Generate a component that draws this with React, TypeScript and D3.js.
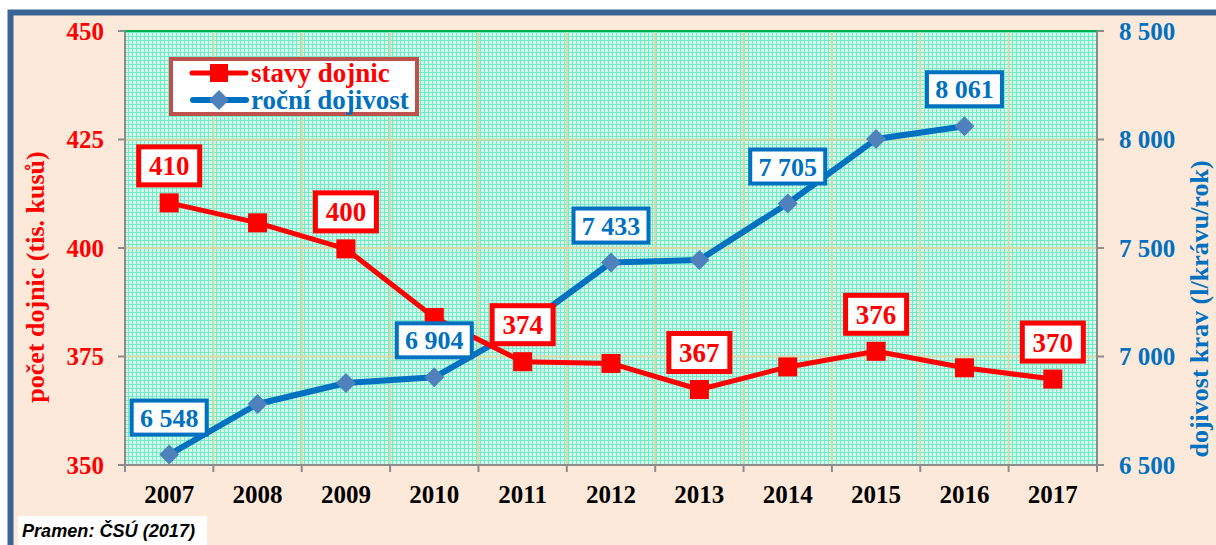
import React from "react";
import * as d3 from "d3";

const years = ["2007", "2008", "2009", "2010", "2011", "2012", "2013", "2014", "2015", "2016", "2017"];
const cows = [410.4, 405.8, 399.8, 384.0, 373.8, 373.4, 367.4, 372.6, 376.2, 372.4, 369.8];
const milk: (number | null)[] = [6548, 6781, 6878, 6904, 7135, 7433, 7445, 7705, 8002, 8061, null];
const cowsLabelIdx = [0, 2, 4, 6, 8, 10];
const milkLabelIdx = [0, 3, 5, 7, 9];
const leftTicks = [350, 375, 400, 425, 450];
const rightTicks = [6500, 7000, 7500, 8000, 8500];
const seriesNames = ["stavy dojnic", "roční dojivost"];

const RED = "#FF0000";
const BLUE = "#0070C0";
const DIAMOND = "#4F81BD";
const SERIF = "'Liberation Serif', 'Times New Roman', serif";

const fmt = d3.formatLocale({ decimal: ",", thousands: "\u00a0", grouping: [3], currency: ["", ""] }).format(",d");

export default function App() {
  const W = 1216, H = 545;
  const L = 125, R = 1097, T = 31, B = 465;
  const x = d3.scaleBand<string>().domain(years).range([L, R]);
  const cx = (i: number) => (x(years[i]) as number) + x.bandwidth() / 2;
  const yL = d3.scaleLinear().domain([350, 450]).range([B, T]);
  const yR = d3.scaleLinear().domain([6500, 8500]).range([B, T]);

  const redLine = d3.line<number>().x((_, i) => cx(i)).y((d) => yL(d))(cows) || "";
  const milkPts = milk.map((v, i) => ({ v, i })).filter((p) => p.v !== null) as { v: number; i: number }[];
  const blueLine = d3.line<{ v: number; i: number }>().x((p) => cx(p.i)).y((p) => yR(p.v))(milkPts) || "";

  const diamond = (px: number, py: number, r: number) =>
    `M${px},${py - r}L${px + r},${py}L${px},${py + r}L${px - r},${py}Z`;

  const boundaries = d3.range(years.length + 1).map((k) => L + k * x.bandwidth());

  return (
    <svg width={W} height={H} style={{ position: "absolute", left: 0, top: 0 }} xmlns="http://www.w3.org/2000/svg">
      <defs>
        <pattern id="grid" width={4} height={4} patternUnits="userSpaceOnUse">
          <rect width={4} height={4} fill="#D2F8EC" />
          <rect width={4} height={1} fill="#74E9C6" />
          <rect width={1} height={4} fill="#74E9C6" />
        </pattern>
      </defs>
      <rect width={W} height={H} fill="#FFFFFF" />
      <rect x={10.5} y={12.5} width={1240} height={560} fill="#FDE9D9" stroke="#3B6496" strokeWidth={6} />

      {/* plot area */}
      <rect x={L} y={T} width={R - L} height={B - T} fill="url(#grid)" />
      {boundaries.slice(1, -1).map((bx, k) => (
        <line key={"v" + k} x1={bx} x2={bx} y1={T} y2={B} stroke="#D5D9A6" strokeWidth={2} />
      ))}
      {leftTicks.slice(1, -1).map((t) => (
        <line key={"h" + t} x1={L} x2={R} y1={yL(t)} y2={yL(t)} stroke="#D5D9A6" strokeWidth={2} />
      ))}
      <line x1={L} x2={R} y1={T} y2={T} stroke="#00B050" strokeWidth={2} />
      <line x1={L} x2={L} y1={T} y2={B} stroke="#8C8C8C" strokeWidth={2} />
      <line x1={R} x2={R} y1={T} y2={B} stroke="#8C8C8C" strokeWidth={2} />
      <line x1={L} x2={R} y1={B} y2={B} stroke="#8C8C8C" strokeWidth={2} />
      {boundaries.map((bx, k) => (
        <line key={"xt" + k} x1={bx} x2={bx} y1={B} y2={B + 7} stroke="#8C8C8C" strokeWidth={2} />
      ))}
      {leftTicks.map((t) => (
        <g key={"lt" + t}>
          <line x1={L - 7} x2={L} y1={yL(t)} y2={yL(t)} stroke="#8C8C8C" strokeWidth={2} />
          <text x={104} y={yL(t)} dy="0.35em" textAnchor="end" fontFamily={SERIF} fontWeight="bold" fontSize={25} fill={RED}>
            {t}
          </text>
        </g>
      ))}
      {rightTicks.map((t) => (
        <g key={"rt" + t}>
          <line x1={R} x2={R + 7} y1={yR(t)} y2={yR(t)} stroke="#8C8C8C" strokeWidth={2} />
          <text x={1119} y={yR(t)} dy="0.35em" textAnchor="start" fontFamily={SERIF} fontWeight="bold" fontSize={25} fill={BLUE}>
            {fmt(t)}
          </text>
        </g>
      ))}
      {years.map((yv, i) => (
        <text key={yv} x={cx(i)} y={503} textAnchor="middle" fontFamily={SERIF} fontWeight="bold" fontSize={25} fill="#000">
          {yv}
        </text>
      ))}

      {/* axis titles */}
      <text transform="translate(44,277) rotate(-90)" textAnchor="middle" fontFamily={SERIF} fontWeight="bold" fontSize={26} fill={RED}>
        počet dojnic (tis. kusů)
      </text>
      <text transform="translate(1208,309) rotate(-90)" textAnchor="middle" fontFamily={SERIF} fontWeight="bold" fontSize={26} fill={BLUE}>
        dojivost krav (l/krávu/rok)
      </text>

      {/* series */}
      <path d={blueLine} fill="none" stroke={BLUE} strokeWidth={6} strokeLinejoin="round" />
      {milkPts.map((p) => (
        <path key={"d" + p.i} d={diamond(cx(p.i), yR(p.v), 10)} fill={DIAMOND} />
      ))}
      <path d={redLine} fill="none" stroke={RED} strokeWidth={5} strokeLinejoin="round" />
      {cows.map((v, i) => (
        <rect key={"s" + i} x={cx(i) - 9.5} y={yL(v) - 9.5} width={19} height={19} fill={RED} />
      ))}

      {/* data labels */}
      {milkLabelIdx.map((i) => {
        const v = milk[i] as number;
        const px = cx(i), py = yR(v) - 37;
        return (
          <g key={"ml" + i}>
            <rect x={px - 37.5} y={py - 17} width={75} height={34} fill="#FFF" stroke={BLUE} strokeWidth={4} />
            <text x={px} y={py} dy="0.35em" textAnchor="middle" fontFamily={SERIF} fontWeight="bold" fontSize={26} fill={BLUE}>
              {fmt(v)}
            </text>
          </g>
        );
      })}
      {cowsLabelIdx.map((i) => {
        const v = cows[i];
        const px = cx(i), py = yL(v) - 37;
        return (
          <g key={"cl" + i}>
            <rect x={px - 30.5} y={py - 19} width={61} height={38} fill="#FFF" stroke={RED} strokeWidth={5} />
            <text x={px} y={py} dy="0.35em" textAnchor="middle" fontFamily={SERIF} fontWeight="bold" fontSize={27} fill={RED}>
              {Math.round(v)}
            </text>
          </g>
        );
      })}

      {/* legend */}
      <rect x={171} y={59} width={246} height={55} fill="#FFF" stroke="#C0504D" strokeWidth={4} />
      <line x1={192} x2={246} y1={73} y2={73} stroke={RED} strokeWidth={5} strokeLinecap="round" />
      <rect x={210} y={64} width={18} height={18} fill={RED} />
      <text x={251} y={73} dy="0.35em" fontFamily={SERIF} fontWeight="bold" fontSize={27} fill={RED}>
        {seriesNames[0]}
      </text>
      <line x1={193} x2={246} y1={100} y2={100} stroke={BLUE} strokeWidth={6} strokeLinecap="round" />
      <path d={diamond(219, 100, 10)} fill={DIAMOND} />
      <text x={251} y={100} dy="0.35em" fontFamily={SERIF} fontWeight="bold" fontSize={27} fill={BLUE}>
        {seriesNames[1]}
      </text>

      {/* source */}
      <rect x={18} y={516} width={189} height={29} fill="#FFF" />
      <text x={22} y={537} fontFamily="'Liberation Sans', Arial, sans-serif" fontWeight="bold" fontStyle="italic" fontSize={18} textLength={173} lengthAdjust="spacingAndGlyphs" fill="#000">
        Pramen: ČSÚ (2017)
      </text>
    </svg>
  );
}
